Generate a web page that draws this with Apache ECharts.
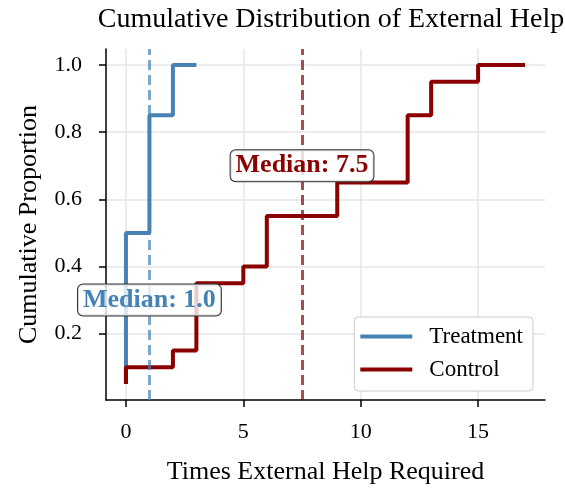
<!DOCTYPE html>
<html>
<head>
<meta charset="utf-8">
<script src="https://cdn.jsdelivr.net/npm/echarts@6/dist/echarts.min.js"></script>
<style>
html,body{margin:0;padding:0;background:#fff;}
#c{width:565px;height:490px;}
</style>
</head>
<body>
<div id="c"></div>
<script>
const treatmentX = [0, 0, 1, 2, 3];
const treatmentY = [0.05, 0.5, 0.85, 1.0, 1.0];
const controlX = [0, 0, 2, 3, 5, 6, 9, 12, 13, 15, 17];
const controlY = [0.05, 0.10, 0.15, 0.35, 0.40, 0.55, 0.65, 0.85, 0.95, 1.0, 1.0];
const treatmentMedian = 1.0;
const controlMedian = 7.5;
const xTicks = [0, 5, 10, 15];
const yTicks = [0.2, 0.4, 0.6, 0.8, 1.0];
const seriesNames = ['Treatment', 'Control'];

const FONT = "'Liberation Serif', 'DejaVu Serif', serif";
const BLUE = '#4682B4';
const RED = '#8B0000';

const chart = echarts.init(document.getElementById('c'), null, {renderer: 'canvas'});

function pairs(xs, ys) { return xs.map((x, i) => [x, ys[i]]); }

function medianLabel(x, y, color) {
  return {
    symbol: 'circle',
    symbolSize: 0,
    silent: true,
    data: [{
      coord: [x, y],
      label: {
        show: true,
        position: 'inside',
        formatter: 'Median: ' + x.toFixed(1),
        color: color,
        fontFamily: FONT,
        fontSize: 26,
        fontWeight: 'bold',
        lineHeight: 26,
        backgroundColor: 'rgba(255,255,255,0.8)',
        borderColor: '#333',
        borderWidth: 1,
        borderRadius: 5,
        padding: [3, 5, 2, 5]
      }
    }]
  };
}

function medianLine(x, color) {
  return {
    symbol: 'none',
    silent: true,
    label: {show: false},
    lineStyle: {color: color, opacity: 0.7, width: 3, type: [10, 5]},
    data: [{xAxis: x}]
  };
}

const option = {
  animation: false,
  backgroundColor: '#fff',
  title: {
    text: 'Cumulative Distribution of External Help',
    left: 326,
    top: 1,
    textAlign: 'center',
    textStyle: {fontFamily: FONT, fontSize: 28, fontWeight: 'normal', color: '#000'}
  },
  grid: {left: 106, right: 20, top: 49, bottom: 88, containLabel: false},
  legend: {
    data: seriesNames,
    orient: 'vertical',
    right: 32,
    bottom: 99,
    icon: 'rect',
    itemWidth: 52,
    itemHeight: 4,
    itemGap: 10,
    padding: [8, 10, 10, 6],
    backgroundColor: '#fff',
    borderColor: '#ccc',
    borderWidth: 1,
    borderRadius: 4,
    textStyle: {fontFamily: FONT, fontSize: 23, color: '#000', padding: [0, 0, 0, 12], lineHeight: 22}
  },
  xAxis: {
    type: 'value',
    min: -0.85,
    max: 17.85,
    name: 'Times External Help Required',
    nameLocation: 'middle',
    nameGap: 59,
    nameTextStyle: {fontFamily: FONT, fontSize: 26, color: '#000'},
    axisLine: {onZero: false, lineStyle: {color: '#000', width: 1.5}},
    axisTick: {show: true, inside: false, length: 7, customValues: xTicks, lineStyle: {color: '#000', width: 1.5}},
    axisLabel: {customValues: xTicks, margin: 21, fontFamily: FONT, fontSize: 22, color: '#000',
      formatter: v => String(v)},
    splitLine: {show: true, lineStyle: {color: '#e6e6e6', width: 1.5}}
  },
  yAxis: {
    type: 'value',
    min: 0.0025,
    max: 1.0475,
    name: 'Cumulative Proportion',
    nameLocation: 'middle',
    nameGap: 64,
    nameTextStyle: {fontFamily: FONT, fontSize: 26, color: '#000'},
    axisLine: {show: true, onZero: false, lineStyle: {color: '#000', width: 1.5}},
    axisTick: {show: true, inside: false, length: 7, customValues: yTicks, lineStyle: {color: '#000', width: 1.5}},
    axisLabel: {customValues: yTicks, margin: 24, fontFamily: FONT, fontSize: 22, color: '#000',
      formatter: v => v.toFixed(1)},
    splitLine: {show: true, lineStyle: {color: '#e6e6e6', width: 1.5}}
  },
  series: [
    {
      name: seriesNames[0],
      type: 'line',
      step: 'end',
      showSymbol: false,
      symbol: 'none',
      color: BLUE,
      lineStyle: {color: BLUE, width: 4},
      data: pairs(treatmentX, treatmentY),
      markLine: medianLine(treatmentMedian, BLUE),
      markPoint: medianLabel(treatmentMedian, 0.3, BLUE),
      z: 2
    },
    {
      name: seriesNames[1],
      type: 'line',
      step: 'end',
      showSymbol: false,
      symbol: 'none',
      color: RED,
      lineStyle: {color: RED, width: 4},
      data: pairs(controlX, controlY),
      markLine: medianLine(controlMedian, RED),
      markPoint: medianLabel(controlMedian, 0.7, RED),
      z: 3
    }
  ]
};
chart.setOption(option);
</script>
</body>
</html>
